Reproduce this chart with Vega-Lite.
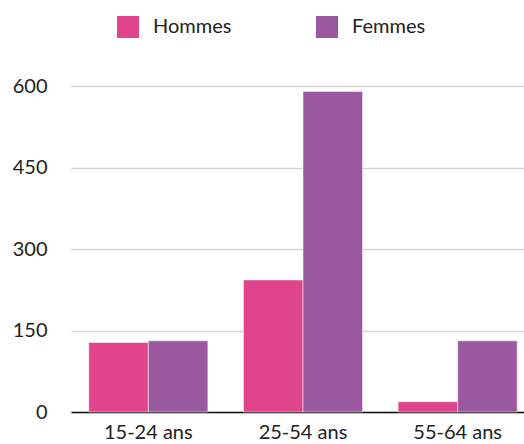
{
  "$schema": "https://vega.github.io/schema/vega-lite/v6.json",
  "width": 464,
  "height": 326,
  "autosize": {"type": "none"},
  "padding": {"left": 71, "top": 86, "right": 0, "bottom": 34},
  "config": {"view": {"stroke": null}, "font": "Lato"},
  "data": {
    "values": [
      {"age": "15-24 ans", "sexe": "Hommes", "valeur": 128},
      {"age": "15-24 ans", "sexe": "Femmes", "valeur": 131},
      {"age": "25-54 ans", "sexe": "Hommes", "valeur": 243},
      {"age": "25-54 ans", "sexe": "Femmes", "valeur": 590},
      {"age": "55-64 ans", "sexe": "Hommes", "valeur": 19},
      {"age": "55-64 ans", "sexe": "Femmes", "valeur": 131}
    ]
  },
  "mark": {"type": "bar", "stroke": "white", "strokeWidth": 1, "strokeOpacity": 0.5},
  "encoding": {
    "x": {
      "field": "age", "type": "nominal", "sort": null,
      "scale": {"paddingInner": 0.23, "paddingOuter": 0.115},
      "axis": {"title": null, "labelAngle": 0, "ticks": false, "domainColor": "#111", "domainWidth": 1.5, "labelFontSize": 20, "labelPadding": 10, "labelColor": "#222"}
    },
    "xOffset": {"field": "sexe", "type": "nominal", "sort": ["Hommes", "Femmes"]},
    "y": {
      "field": "valeur", "type": "quantitative",
      "scale": {"domain": [0, 600]},
      "axis": {"values": [0, 150, 300, 450, 600], "title": null, "domain": false, "ticks": false, "labelPadding": 24, "gridColor": "#d3d3d3", "gridWidth": 1.5, "labelFontSize": 20, "labelColor": "#222"}
    },
    "color": {
      "field": "sexe", "type": "nominal", "sort": ["Hommes", "Femmes"],
      "scale": {"range": ["#E0448A", "#9A589E"]},
      "legend": {"title": null, "orient": "none", "legendX": 46, "legendY": -70, "direction": "horizontal", "symbolType": "square", "symbolSize": 484, "symbolStrokeWidth": 0, "symbolOpacity": 1, "labelFontSize": 20, "labelColor": "#222", "columnPadding": 84, "labelOffset": 14}
    }
  }
}
